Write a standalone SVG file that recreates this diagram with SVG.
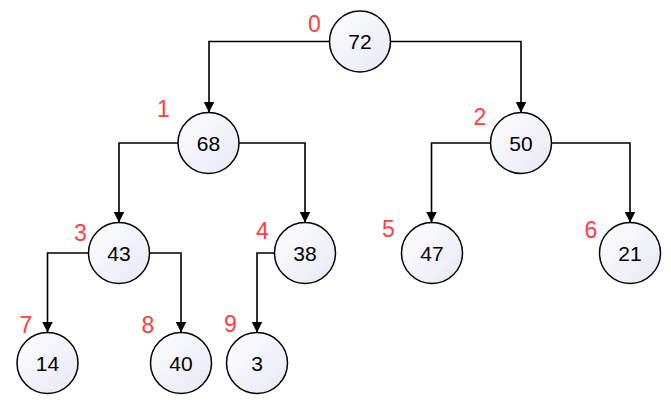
<svg xmlns="http://www.w3.org/2000/svg" width="671" height="415" viewBox="0 0 671 415">
<style>
.node circle{fill:url(#g);stroke:#000;stroke-width:1.5}
.node text{font-family:"Liberation Sans",Arial,sans-serif;font-size:21px;text-anchor:middle;fill:#000}
.idx{font-family:"Liberation Sans",Arial,sans-serif;font-size:23px;text-anchor:middle;fill:#FF4040}
.edges path{fill:none;stroke:#000;stroke-width:1.6;marker-end:url(#arr)}
</style>
<defs>
<linearGradient id="g" x1="0" y1="0" x2="1" y2="1">
<stop offset="0" stop-color="#FFFFFF"/>
<stop offset="1" stop-color="#E6E8F4"/>
</linearGradient>
<marker id="arr" markerUnits="userSpaceOnUse" markerWidth="12" markerHeight="12" viewBox="0 0 12 12" refX="11" refY="6" orient="auto">
<path d="M0,0.5 L11,6 L0,11.5 Z" fill="#000"/>
</marker>
</defs>
<rect width="671" height="415" fill="#fff"/>
<g class="edges">
<path d="M329.5,41.5 H209 V112.5"/>
<path d="M390.5,41.5 H521 V112.5"/>
<path d="M178,143 H119 V222.5"/>
<path d="M239,143 H305 V222.5"/>
<path d="M490.5,143 H431.5 V222.5"/>
<path d="M551.5,143 H630 V222.5"/>
<path d="M88.5,253 H47.5 V332.5"/>
<path d="M149.5,253 H181 V332.5"/>
<path d="M274.5,253 H257 V332.5"/>
</g>
<g id="n0" class="node"><circle cx="360" cy="41.5" r="30.5"/><text x="360" y="49">72</text></g>
<g id="n1" class="node"><circle cx="208.5" cy="143" r="30.5"/><text x="208.5" y="150.5">68</text></g>
<g id="n2" class="node"><circle cx="521" cy="143" r="30.5"/><text x="521" y="150.5">50</text></g>
<g id="n3" class="node"><circle cx="119" cy="253" r="30.5"/><text x="119" y="260.5">43</text></g>
<g id="n4" class="node"><circle cx="305" cy="253" r="30.5"/><text x="305" y="260.5">38</text></g>
<g id="n5" class="node"><circle cx="432" cy="253" r="30.5"/><text x="432" y="260.5">47</text></g>
<g id="n6" class="node"><circle cx="630" cy="253" r="30.5"/><text x="630" y="260.5">21</text></g>
<g id="n7" class="node"><circle cx="47.5" cy="363" r="30.5"/><text x="47.5" y="370.5">14</text></g>
<g id="n8" class="node"><circle cx="181" cy="363" r="30.5"/><text x="181" y="370.5">40</text></g>
<g id="n9" class="node"><circle cx="257" cy="363" r="30.5"/><text x="257" y="370.5">3</text></g>
<g id="labels">
<text class="idx" x="314.5" y="32">0</text>
<text class="idx" x="163.5" y="117">1</text>
<text class="idx" x="480" y="125">2</text>
<text class="idx" x="80.5" y="241">3</text>
<text class="idx" x="262.5" y="239">4</text>
<text class="idx" x="388.5" y="237">5</text>
<text class="idx" x="591" y="238">6</text>
<text class="idx" x="26" y="333">7</text>
<text class="idx" x="148" y="333">8</text>
<text class="idx" x="230.5" y="332">9</text>
</g>
</svg>
